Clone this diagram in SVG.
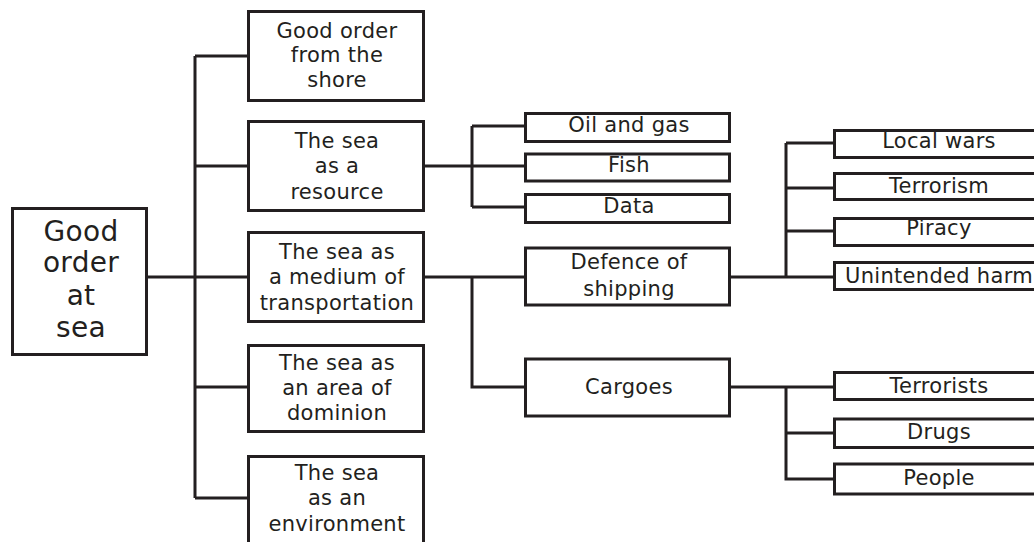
<svg xmlns="http://www.w3.org/2000/svg" width="1034" height="542" viewBox="0 0 1034 542">
<style>
.box{fill:#fff;stroke:#231f20;stroke-width:3}
.ln{fill:none;stroke:#231f20;stroke-width:3}
text{font-family:"DejaVu Sans","Liberation Sans",sans-serif;font-size:21px;letter-spacing:0.3px;fill:#231f20;text-anchor:middle}
.big{font-size:28px;letter-spacing:0.3px}
</style>
<rect width="1034" height="542" fill="#fff"/>
<g id="connectors">
<path class="ln" d="M148 277H195M195 56V498M195 56H248M195 166H248M195 277H248M195 387H248M195 498H248"/>
<path class="ln" d="M425 166H524M472 126V207M472 126H524M472 207H524"/>
<path class="ln" d="M425 277H524M472 277V387H524"/>
<path class="ln" d="M731 277H833M786 143V277M786 143H833M786 188H833M786 231H833"/>
<path class="ln" d="M731 387H833M786 387V479H833M786 433H833"/>
</g>
<g id="root"><rect class="box" x="12.5" y="208.5" width="134" height="146"/>
<text class="big" x="81" y="241">Good</text><text class="big" x="81" y="272">order</text><text class="big" x="81" y="305">at</text><text class="big" x="81" y="337">sea</text></g>
<g id="shore"><rect class="box" x="248.5" y="11.5" width="175" height="89"/>
<text x="337" y="38">Good order</text><text x="337" y="62">from the</text><text x="337" y="87">shore</text></g>
<g id="resource"><rect class="box" x="248.5" y="121.5" width="175" height="89"/>
<text x="337" y="148">The sea</text><text x="337" y="173">as a</text><text x="337" y="199">resource</text></g>
<g id="transport"><rect class="box" x="248.5" y="232.5" width="175" height="89"/>
<text x="337" y="259">The sea as</text><text x="337" y="284">a medium of</text><text x="337" y="310">transportation</text></g>
<g id="dominion"><rect class="box" x="248.5" y="345.5" width="175" height="86"/>
<text x="337" y="370">The sea as</text><text x="337" y="395">an area of</text><text x="337" y="420">dominion</text></g>
<g id="environment"><rect class="box" x="248.5" y="456.5" width="175" height="95"/>
<text x="337" y="480">The sea</text><text x="337" y="505">as an</text><text x="337" y="531">environment</text></g>
<g id="oil"><rect class="box" x="525.5" y="113.5" width="204" height="28"/><text x="629" y="132">Oil and gas</text></g>
<g id="fish"><rect class="box" x="525.5" y="154" width="204" height="27"/><text x="629" y="172">Fish</text></g>
<g id="data"><rect class="box" x="525.5" y="194.5" width="204" height="28"/><text x="629" y="213">Data</text></g>
<g id="defence"><rect class="box" x="525.5" y="248" width="204" height="57"/><text x="629" y="269">Defence of</text><text x="629" y="296">shipping</text></g>
<g id="cargoes"><rect class="box" x="525.5" y="359" width="204" height="57"/><text x="629" y="394">Cargoes</text></g>
<g id="localwars"><rect class="box" x="834.5" y="130.5" width="215" height="27"/><text x="939" y="148">Local wars</text></g>
<g id="terrorism"><rect class="box" x="834.5" y="173.5" width="215" height="26"/><text x="939" y="193">Terrorism</text></g>
<g id="piracy"><rect class="box" x="834.5" y="218.5" width="215" height="27"/><text x="939" y="235">Piracy</text></g>
<g id="harm"><rect class="box" x="834.5" y="262.5" width="215" height="27"/><text x="939" y="283">Unintended harm</text></g>
<g id="terrorists"><rect class="box" x="834.5" y="372.5" width="215" height="27"/><text x="939" y="393">Terrorists</text></g>
<g id="drugs"><rect class="box" x="834.5" y="419" width="215" height="28.5"/><text x="939" y="439">Drugs</text></g>
<g id="people"><rect class="box" x="834.5" y="464" width="215" height="30"/><text x="939" y="485">People</text></g>
</svg>
